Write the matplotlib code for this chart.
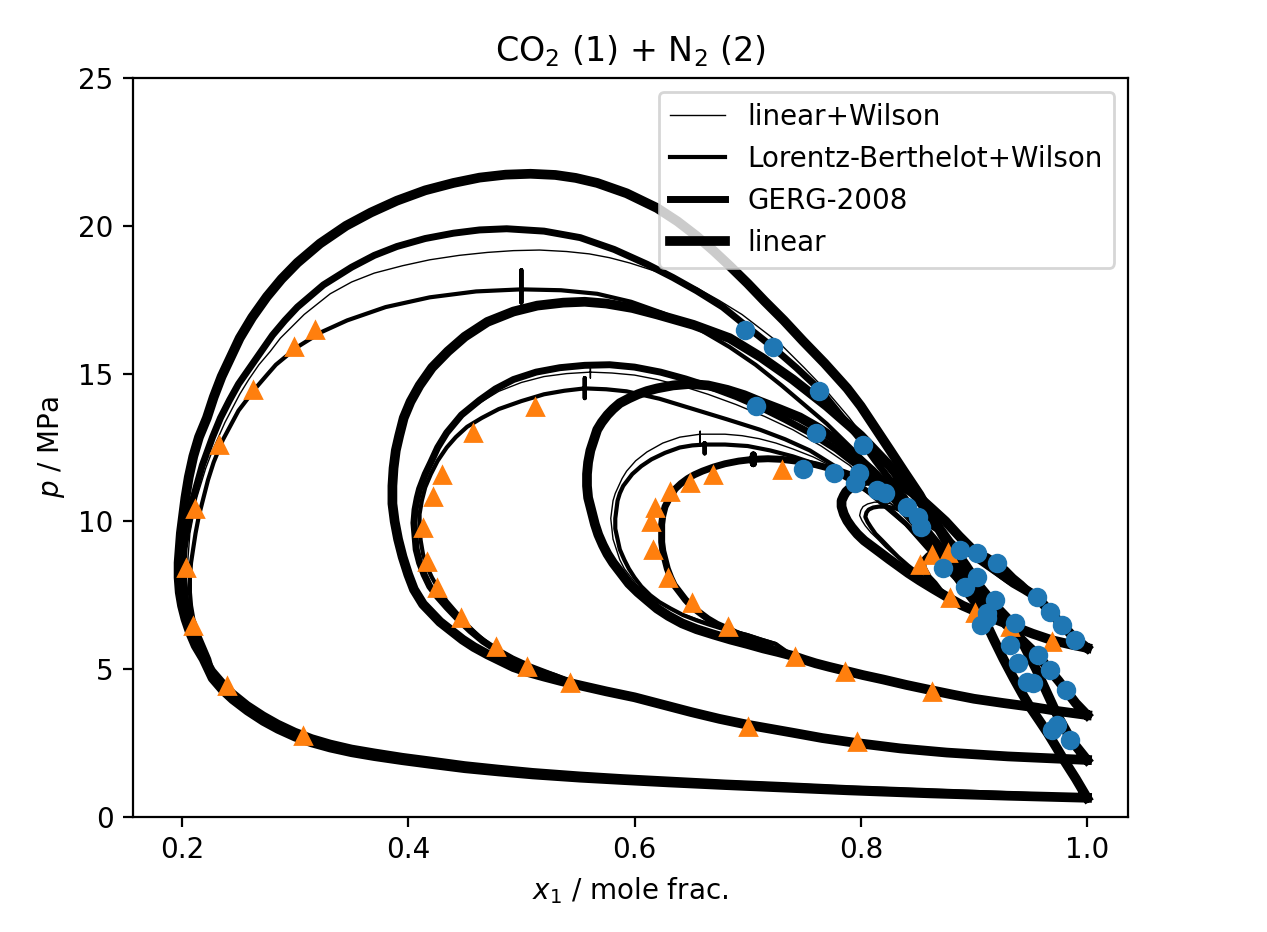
from matplotlib import pyplot as plt
import numpy as np

# phase envelopes CO2 (1) + N2 (2), four isotherms t1..t4 (lowest to highest)
# every envelope runs from pure CO2 (x1 = 1) along the dew branch, over the
# critical region and back along the bubble branch to x1 = 1

# low pressure tails shared by the models of one isotherm
dew_lo_t1 = [(1.0, 0.65), (0.93, 0.76), (0.861, 0.86), (0.79, 0.96), (0.729, 1.07), (0.68, 1.15),
             (0.63, 1.25), (0.59, 1.33), (0.552, 1.42), (0.51, 1.54), (0.48, 1.65), (0.45, 1.77),
             (0.419, 1.93), (0.395, 2.05), (0.37, 2.2), (0.35, 2.33), (0.331, 2.5), (0.315, 2.68),
             (0.3, 2.9), (0.285, 3.17), (0.272, 3.45), (0.258, 3.8), (0.245, 4.2), (0.236, 4.55),
             (0.227, 4.95)]
# the linear model runs a little below the others on the t1 dew branch
dew_lo_t1_lin = [(1.0, 0.65), (0.93, 0.72), (0.861, 0.8), (0.79, 0.9), (0.729, 1.0), (0.68, 1.08),
                 (0.63, 1.17), (0.59, 1.25), (0.552, 1.33), (0.51, 1.44), (0.48, 1.54), (0.45, 1.65),
                 (0.419, 1.8), (0.395, 1.92), (0.37, 2.06), (0.35, 2.19), (0.331, 2.35), (0.315, 2.52),
                 (0.3, 2.72), (0.285, 2.98), (0.272, 3.25), (0.258, 3.6), (0.245, 3.98), (0.236, 4.3),
                 (0.227, 4.7)]
bub_lo_t1 = [(0.906, 6.95), (0.917, 6.05), (0.926, 5.35), (0.935, 4.7), (0.943, 4.15), (0.95, 3.7),
             (0.958, 3.25), (0.965, 2.85), (0.973, 2.35), (0.98, 1.9), (0.99, 1.3), (1.0, 0.65)]

dew_lo_t2 = [(1.0, 1.93), (0.93, 2.05), (0.876, 2.18), (0.835, 2.32), (0.797, 2.5), (0.766, 2.67),
             (0.74, 2.85), (0.7, 3.12), (0.675, 3.32), (0.65, 3.55), (0.625, 3.8), (0.6, 4.05),
             (0.575, 4.25), (0.552, 4.45)]
bub_lo_t2 = [(0.935, 6.5), (0.945, 5.75), (0.955, 5.0), (0.964, 4.25), (0.973, 3.5), (0.986, 2.6),
             (1.0, 1.93)]

dew_lo_t3 = [(1.0, 3.45), (0.975, 3.58), (0.952, 3.72), (0.925, 3.86), (0.9, 4.0), (0.88, 4.15),
             (0.861, 4.3), (0.84, 4.47), (0.82, 4.65), (0.802, 4.8), (0.786, 4.95), (0.772, 5.08),
             (0.76, 5.2), (0.75, 5.32), (0.74, 5.45)]
bub_lo_t3 = [(0.946, 5.85), (0.957, 5.45), (0.967, 4.97), (0.975, 4.6), (0.981, 4.3), (0.99, 3.85),
             (1.0, 3.45)]

dew_lo_t4 = [(1.0, 5.72), (0.985, 5.84), (0.969, 5.98), (0.952, 6.2), (0.935, 6.45), (0.92, 6.67),
             (0.905, 6.9), (0.89, 7.15), (0.876, 7.45)]
bub_lo_t4 = [(0.956, 7.44), (0.967, 6.95), (0.978, 6.5), (0.989, 6.05), (1.0, 5.72)]

# linear+Wilson
linw_t1 = [(0.222, 5.35), (0.217, 5.8), (0.212, 6.25), (0.208, 6.7), (0.206, 7.15), (0.205, 7.6),
           (0.204, 8.1), (0.205, 8.6), (0.206, 9.1), (0.207, 9.6), (0.21, 10.2), (0.213, 10.8),
           (0.217, 11.3), (0.221, 11.8), (0.227, 12.4), (0.238, 13.35), (0.251, 14.3), (0.259, 14.8),
           (0.268, 15.3), (0.278, 15.75), (0.287, 16.2), (0.308, 17.0), (0.331, 17.7), (0.35, 18.1),
           (0.37, 18.4), (0.395, 18.65), (0.419, 18.85), (0.445, 19.0), (0.47, 19.1), (0.493, 19.16),
           (0.516, 19.18), (0.54, 19.13), (0.56, 19.05), (0.578, 18.92), (0.596, 18.74),
           (0.626, 18.37), (0.655, 17.9), (0.675, 17.47), (0.695, 17.0), (0.712, 16.5), (0.729, 16.0),
           (0.75, 15.2), (0.77, 14.4), (0.79, 13.5), (0.81, 12.5), (0.825, 11.7), (0.84, 10.9),
           (0.854, 10.1), (0.867, 9.3), (0.88, 8.5), (0.895, 7.6)]
linw_t2 = [(0.53, 4.8), (0.506, 5.1), (0.49, 5.4), (0.475, 5.7), (0.462, 6.1), (0.45, 6.5),
           (0.44, 6.9), (0.43, 7.3), (0.422, 7.75), (0.416, 8.2), (0.412, 8.65), (0.409, 9.1),
           (0.407, 9.55), (0.407, 10.0), (0.408, 10.4), (0.409, 10.8), (0.412, 11.25), (0.416, 11.7),
           (0.422, 12.2), (0.43, 12.7), (0.44, 13.2), (0.452, 13.7), (0.465, 14.05), (0.48, 14.4),
           (0.5, 14.7), (0.52, 14.9), (0.54, 15.0), (0.561, 15.05), (0.561, 15.25), (0.561, 14.85),
           (0.561, 15.05), (0.58, 15.02), (0.6, 14.95), (0.62, 14.8), (0.64, 14.6), (0.665, 14.3),
           (0.69, 13.95), (0.715, 13.55), (0.74, 13.1), (0.765, 12.55), (0.79, 11.9), (0.813, 11.1),
           (0.835, 10.3), (0.853, 9.55), (0.87, 8.8), (0.885, 8.1), (0.9, 7.5), (0.92, 7.0)]
linw_t3 = [(0.725, 5.9), (0.712, 6.05), (0.7, 6.2), (0.688, 6.32), (0.675, 6.45), (0.665, 6.57),
           (0.655, 6.7), (0.642, 6.88), (0.63, 7.1), (0.62, 7.3), (0.611, 7.5), (0.603, 7.8),
           (0.597, 8.1), (0.591, 8.4), (0.587, 8.7), (0.584, 9.05), (0.581, 9.4), (0.58, 9.75),
           (0.579, 10.1), (0.58, 10.4), (0.581, 10.7), (0.583, 10.95), (0.586, 11.2), (0.589, 11.45),
           (0.593, 11.7), (0.601, 12.05), (0.611, 12.35), (0.625, 12.65), (0.64, 12.85),
           (0.658, 12.95), (0.658, 13.05), (0.658, 12.55), (0.658, 12.95), (0.68, 12.95),
           (0.695, 12.9), (0.71, 12.8), (0.725, 12.65), (0.74, 12.45), (0.758, 12.18), (0.775, 11.85),
           (0.793, 11.45), (0.81, 11.0), (0.825, 10.52), (0.84, 10.0), (0.855, 9.4), (0.87, 8.8),
           (0.885, 8.15), (0.9, 7.5), (0.915, 6.95), (0.93, 6.4)]
linw_t4 = [(0.863, 7.8), (0.85, 8.2), (0.84, 8.52), (0.83, 8.85), (0.822, 9.12), (0.815, 9.4),
           (0.809, 9.62), (0.804, 9.85), (0.801, 10.03), (0.799, 10.2), (0.8, 10.37), (0.802, 10.5),
           (0.806, 10.59), (0.812, 10.65), (0.819, 10.65), (0.826, 10.6), (0.835, 10.46),
           (0.845, 10.25), (0.857, 9.95), (0.87, 9.6), (0.885, 9.2), (0.9, 8.8), (0.915, 8.4),
           (0.93, 8.0), (0.947, 7.65)]

# Lorentz-Berthelot+Wilson
lbw_t1 = [(0.224, 5.35), (0.219, 5.8), (0.214, 6.25), (0.21, 6.7), (0.208, 7.15), (0.207, 7.6),
          (0.207, 8.1), (0.208, 8.6), (0.21, 9.1), (0.212, 9.6), (0.215, 10.2), (0.219, 10.8),
          (0.223, 11.4), (0.228, 12.0), (0.236, 12.75), (0.25, 13.75), (0.258, 14.15), (0.266, 14.55),
          (0.275, 14.95), (0.283, 15.3), (0.302, 15.9), (0.323, 16.4), (0.346, 16.8), (0.38, 17.25),
          (0.419, 17.58), (0.46, 17.78), (0.5, 17.85), (0.5, 18.5), (0.5, 17.4), (0.5, 17.85),
          (0.535, 17.82), (0.567, 17.7), (0.597, 17.43), (0.625, 17.05), (0.655, 16.55),
          (0.684, 15.9), (0.707, 15.3), (0.73, 14.6), (0.75, 13.95), (0.77, 13.3), (0.79, 12.55),
          (0.81, 11.8), (0.825, 11.2), (0.84, 10.6), (0.854, 9.9), (0.867, 9.2), (0.88, 8.45),
          (0.895, 7.6)]
lbw_t2 = [(0.53, 4.8), (0.505, 5.1), (0.49, 5.42), (0.475, 5.75), (0.463, 6.1), (0.452, 6.5),
          (0.443, 6.9), (0.434, 7.3), (0.427, 7.7), (0.421, 8.1), (0.416, 8.5), (0.413, 8.9),
          (0.411, 9.35), (0.41, 9.8), (0.41, 10.25), (0.412, 10.7), (0.415, 11.15), (0.42, 11.6),
          (0.426, 12.05), (0.434, 12.5), (0.442, 12.85), (0.452, 13.2), (0.465, 13.5), (0.48, 13.8),
          (0.5, 14.07), (0.52, 14.3), (0.538, 14.42), (0.556, 14.5), (0.556, 14.85), (0.556, 14.17),
          (0.556, 14.5), (0.575, 14.47), (0.593, 14.4), (0.622, 14.15), (0.652, 13.8), (0.682, 13.45),
          (0.711, 13.1), (0.733, 12.78), (0.755, 12.4), (0.778, 11.85), (0.8, 11.2), (0.82, 10.55),
          (0.84, 9.9), (0.855, 9.25), (0.87, 8.6), (0.885, 8.0), (0.9, 7.4), (0.92, 7.0)]
lbw_t3 = [(0.725, 5.85), (0.712, 6.0), (0.7, 6.15), (0.688, 6.27), (0.675, 6.4), (0.665, 6.52),
          (0.655, 6.65), (0.643, 6.83), (0.632, 7.05), (0.622, 7.27), (0.614, 7.5), (0.606, 7.8),
          (0.6, 8.1), (0.595, 8.4), (0.591, 8.7), (0.587, 9.05), (0.585, 9.4), (0.583, 9.75),
          (0.583, 10.1), (0.584, 10.4), (0.585, 10.7), (0.587, 10.95), (0.59, 11.2), (0.594, 11.4),
          (0.598, 11.6), (0.606, 11.87), (0.615, 12.1), (0.627, 12.32), (0.64, 12.5), (0.651, 12.57),
          (0.662, 12.6), (0.662, 12.65), (0.662, 12.3), (0.662, 12.6), (0.68, 12.6), (0.7, 12.55),
          (0.72, 12.4), (0.74, 12.2), (0.758, 11.97), (0.775, 11.7), (0.793, 11.33), (0.81, 10.9),
          (0.825, 10.42), (0.84, 9.9), (0.855, 9.3), (0.87, 8.7), (0.885, 8.05), (0.9, 7.4),
          (0.915, 6.9), (0.93, 6.4)]
lbw_t4 = [(0.864, 7.82), (0.852, 8.2), (0.842, 8.5), (0.833, 8.8), (0.826, 9.07), (0.819, 9.35),
          (0.813, 9.58), (0.809, 9.8), (0.806, 9.98), (0.804, 10.15), (0.805, 10.3), (0.807, 10.4),
          (0.811, 10.47), (0.816, 10.5), (0.823, 10.5), (0.83, 10.45), (0.84, 10.3), (0.85, 10.1),
          (0.862, 9.82), (0.875, 9.5), (0.887, 9.12), (0.9, 8.75), (0.915, 8.35), (0.93, 7.95),
          (0.947, 7.6)]

# GERG-2008
gerg_t1 = [(0.221, 5.35), (0.215, 5.8), (0.21, 6.25), (0.206, 6.7), (0.204, 7.15), (0.202, 7.6),
           (0.201, 8.1), (0.201, 8.6), (0.202, 9.1), (0.204, 9.6), (0.207, 10.2), (0.21, 10.8),
           (0.214, 11.35), (0.218, 11.9), (0.227, 12.85), (0.234, 13.5), (0.242, 14.1), (0.25, 14.65),
           (0.26, 15.2), (0.27, 15.75), (0.28, 16.3), (0.291, 16.8), (0.302, 17.25), (0.325, 18.0),
           (0.35, 18.6), (0.37, 19.0), (0.39, 19.3), (0.415, 19.57), (0.44, 19.75), (0.463, 19.86),
           (0.487, 19.9), (0.52, 19.82), (0.552, 19.6), (0.582, 19.2), (0.611, 18.7), (0.634, 18.25),
           (0.655, 17.8), (0.678, 17.25), (0.699, 16.6), (0.722, 15.9), (0.743, 15.2), (0.764, 14.45),
           (0.782, 13.6), (0.8, 12.75), (0.813, 12.05), (0.826, 11.4), (0.84, 10.7), (0.852, 10.05),
           (0.867, 9.1), (0.88, 8.35), (0.895, 7.5)]
gerg_t2 = [(0.53, 4.75), (0.508, 5.07), (0.492, 5.35), (0.478, 5.65), (0.466, 5.95), (0.455, 6.3),
           (0.444, 6.7), (0.434, 7.1), (0.426, 7.45), (0.419, 7.8), (0.414, 8.2), (0.41, 8.6),
           (0.407, 9.05), (0.406, 9.5), (0.405, 9.95), (0.406, 10.4), (0.408, 10.8), (0.41, 11.1),
           (0.415, 11.6), (0.42, 12.0), (0.426, 12.5), (0.434, 13.0), (0.447, 13.6), (0.463, 14.1),
           (0.477, 14.48), (0.493, 14.8), (0.513, 15.05), (0.534, 15.2), (0.556, 15.28), (0.578, 15.3),
           (0.6, 15.22), (0.623, 15.05), (0.645, 14.82), (0.667, 14.55), (0.69, 14.22), (0.711, 13.87),
           (0.733, 13.45), (0.755, 13.0), (0.778, 12.45), (0.8, 11.8), (0.82, 11.1), (0.84, 10.3),
           (0.855, 9.6), (0.87, 8.9), (0.885, 8.2), (0.9, 7.6), (0.92, 7.0)]
gerg_t3 = [(0.728, 5.6), (0.716, 5.8), (0.703, 6.0), (0.69, 6.22), (0.683, 6.35), (0.673, 6.52),
           (0.665, 6.7), (0.658, 6.9), (0.651, 7.1), (0.645, 7.35), (0.64, 7.6), (0.635, 7.85),
           (0.632, 8.1), (0.629, 8.4), (0.627, 8.7), (0.625, 9.0), (0.624, 9.3), (0.624, 9.6),
           (0.624, 9.9), (0.625, 10.2), (0.627, 10.5), (0.631, 10.8), (0.636, 11.1), (0.641, 11.28),
           (0.647, 11.45), (0.653, 11.58), (0.66, 11.7), (0.67, 11.84), (0.68, 11.95), (0.692, 12.04),
           (0.705, 12.1), (0.705, 12.25), (0.705, 11.95), (0.705, 12.1), (0.718, 12.12), (0.73, 12.1),
           (0.745, 12.03), (0.76, 11.92), (0.78, 11.72), (0.8, 11.45), (0.815, 11.2), (0.83, 10.85),
           (0.84, 10.5), (0.85, 10.1), (0.86, 9.55), (0.87, 9.0), (0.88, 8.5), (0.89, 8.0),
           (0.9, 7.55), (0.91, 7.1), (0.92, 6.75), (0.935, 6.3)]
gerg_t4 = [(0.87, 7.65), (0.865, 7.9), (0.86, 8.1), (0.857, 8.3), (0.855, 8.45), (0.855, 8.6),
           (0.857, 8.73), (0.86, 8.85), (0.866, 8.94), (0.872, 9.0), (0.88, 9.04), (0.888, 9.05),
           (0.896, 9.02), (0.903, 8.95), (0.912, 8.8), (0.92, 8.6), (0.928, 8.37), (0.935, 8.1),
           (0.942, 7.88), (0.947, 7.7)]

# linear
lin_t1 = [(0.219, 5.35), (0.212, 5.8), (0.207, 6.25), (0.203, 6.7), (0.2, 7.15), (0.198, 7.6),
          (0.197, 8.1), (0.197, 8.6), (0.198, 9.1), (0.199, 9.6), (0.201, 10.2), (0.203, 10.8),
          (0.206, 11.5), (0.21, 12.2), (0.215, 12.85), (0.222, 13.5), (0.228, 14.2), (0.235, 14.9),
          (0.243, 15.55), (0.251, 16.2), (0.262, 16.9), (0.275, 17.6), (0.288, 18.2), (0.302, 18.75),
          (0.322, 19.4), (0.345, 20.0), (0.367, 20.45), (0.39, 20.85), (0.415, 21.2), (0.44, 21.45),
          (0.463, 21.63), (0.486, 21.73), (0.508, 21.76), (0.53, 21.72), (0.548, 21.62),
          (0.567, 21.45), (0.593, 21.1), (0.62, 20.6), (0.638, 20.15), (0.655, 19.65), (0.67, 19.15),
          (0.684, 18.65), (0.7, 18.05), (0.715, 17.45), (0.732, 16.8), (0.749, 16.1), (0.768, 15.35),
          (0.788, 14.5), (0.8, 13.9), (0.813, 13.15), (0.826, 12.4), (0.838, 11.7), (0.852, 10.9),
          (0.863, 10.15), (0.875, 9.35), (0.885, 8.6), (0.895, 7.85)]
lin_t2 = [(0.535, 4.6), (0.52, 4.75), (0.506, 4.9), (0.493, 5.07), (0.47, 5.5), (0.458, 5.75),
          (0.448, 6.0), (0.438, 6.3), (0.428, 6.6), (0.413, 7.2), (0.405, 7.7), (0.4, 8.2),
          (0.395, 8.8), (0.391, 9.4), (0.388, 10.0), (0.386, 10.6), (0.386, 11.2), (0.387, 11.8),
          (0.389, 12.4), (0.392, 12.9), (0.396, 13.5), (0.402, 14.05), (0.41, 14.6), (0.421, 15.2),
          (0.435, 15.75), (0.45, 16.25), (0.47, 16.75), (0.493, 17.1), (0.514, 17.3), (0.537, 17.4),
          (0.556, 17.43), (0.575, 17.37), (0.598, 17.22), (0.62, 17.0), (0.652, 16.65),
          (0.684, 16.2), (0.712, 15.55), (0.74, 14.8), (0.77, 13.9), (0.8, 12.9), (0.825, 11.9),
          (0.85, 10.8), (0.865, 10.0), (0.88, 9.2), (0.893, 8.5), (0.905, 7.8), (0.92, 7.1)]
lin_t3 = [(0.727, 5.58), (0.714, 5.7), (0.7, 5.85), (0.685, 6.0), (0.67, 6.17), (0.655, 6.35),
          (0.642, 6.55), (0.63, 6.8), (0.62, 7.05), (0.611, 7.34), (0.603, 7.6), (0.595, 7.9),
          (0.588, 8.25), (0.581, 8.6), (0.576, 8.9), (0.572, 9.2), (0.568, 9.55), (0.565, 9.9),
          (0.562, 10.35), (0.559, 10.8), (0.558, 11.2), (0.558, 11.6), (0.559, 12.0), (0.561, 12.4),
          (0.564, 12.75), (0.567, 13.1), (0.571, 13.35), (0.576, 13.6), (0.581, 13.8), (0.587, 14.0),
          (0.595, 14.16), (0.603, 14.3), (0.611, 14.41), (0.62, 14.5), (0.634, 14.6), (0.649, 14.65),
          (0.665, 14.6), (0.682, 14.45), (0.697, 14.27), (0.711, 14.05), (0.728, 13.8),
          (0.746, 13.52), (0.763, 13.15), (0.78, 12.7), (0.795, 12.2), (0.81, 11.7), (0.825, 11.1),
          (0.84, 10.5), (0.855, 9.8), (0.87, 9.1), (0.885, 8.4), (0.9, 7.7), (0.915, 7.05),
          (0.93, 6.45)]
lin_t4 = [(0.864, 7.72), (0.852, 8.0), (0.842, 8.25), (0.833, 8.5), (0.825, 8.72), (0.817, 8.95),
          (0.81, 9.15), (0.803, 9.35), (0.797, 9.57), (0.792, 9.8), (0.788, 10.02), (0.785, 10.25),
          (0.783, 10.5), (0.783, 10.7), (0.785, 10.87), (0.787, 11.0), (0.791, 11.14), (0.795, 11.25),
          (0.802, 11.35), (0.81, 11.4), (0.82, 11.39), (0.83, 11.3), (0.841, 11.1), (0.852, 10.8),
          (0.863, 10.42), (0.875, 10.0), (0.887, 9.5), (0.9, 9.0), (0.912, 8.58), (0.925, 8.2),
          (0.935, 7.92), (0.945, 7.7)]

# measured dew points (vapour) and bubble points (liquid)
dew_x = [0.318, 0.299, 0.263, 0.233, 0.2115, 0.2035, 0.2097, 0.24, 0.307,
         0.512, 0.457, 0.43, 0.422, 0.413, 0.417, 0.425, 0.447, 0.478, 0.505, 0.543, 0.70, 0.797,
         0.73, 0.669, 0.649, 0.631, 0.618, 0.615, 0.616, 0.63, 0.651, 0.683, 0.742, 0.786, 0.863,
         0.852, 0.863, 0.877, 0.879, 0.901, 0.932, 0.969]
dew_p = [16.47, 15.9, 14.45, 12.58, 10.42, 8.42, 6.46, 4.43, 2.74,
         13.87, 13.0, 11.57, 10.83, 9.78, 8.63, 7.75, 6.73, 5.75, 5.07, 4.53, 3.04, 2.54,
         11.74, 11.57, 11.3, 11.0, 10.45, 9.98, 9.03, 8.09, 7.24, 6.43, 5.41, 4.9, 4.23,
         8.53, 8.86, 8.93, 7.41, 6.9, 6.43, 5.92]

bub_x = [0.698, 0.722, 0.763, 0.707, 0.76, 0.802, 0.749, 0.776, 0.798, 0.795, 0.814, 0.821,
         0.841, 0.851, 0.853, 0.888, 0.903, 0.92, 0.873, 0.903, 0.892, 0.919, 0.912, 0.912,
         0.906, 0.936, 0.932, 0.939, 0.947, 0.952, 0.957, 0.967, 0.981, 0.969, 0.973, 0.985,
         0.956, 0.967, 0.978, 0.989]
bub_p = [16.47, 15.9, 14.41, 13.9, 12.99, 12.58, 11.77, 11.64, 11.64, 11.3, 11.06, 10.96,
         10.5, 10.15, 9.8, 9.03, 8.93, 8.59, 8.42, 8.12, 7.78, 7.34, 6.9, 6.73,
         6.5, 6.56, 5.82, 5.2, 4.57, 4.53, 5.48, 4.97, 4.3, 2.94, 3.11, 2.6,
         7.44, 6.93, 6.5, 5.99]

# (dew tail, upper part, bubble tail) for t1..t4
models = [
    ('linear+Wilson', 0.5, [(dew_lo_t1, linw_t1, bub_lo_t1), (dew_lo_t2, linw_t2, bub_lo_t2),
                            (dew_lo_t3, linw_t3, bub_lo_t3), (dew_lo_t4, linw_t4, bub_lo_t4)]),
    ('Lorentz-Berthelot+Wilson', 1.5, [(dew_lo_t1, lbw_t1, bub_lo_t1), (dew_lo_t2, lbw_t2, bub_lo_t2),
                                       (dew_lo_t3, lbw_t3, bub_lo_t3), (dew_lo_t4, lbw_t4, bub_lo_t4)]),
    ('GERG-2008', 2.5, [(dew_lo_t1, gerg_t1, bub_lo_t1), (dew_lo_t2, gerg_t2, bub_lo_t2),
                        (dew_lo_t3, gerg_t3, bub_lo_t3), (dew_lo_t4, gerg_t4, bub_lo_t4)]),
    ('linear', 3.5, [(dew_lo_t1_lin, lin_t1, bub_lo_t1), (dew_lo_t2, lin_t2, bub_lo_t2),
                     (dew_lo_t3, lin_t3, bub_lo_t3), (dew_lo_t4, lin_t4, bub_lo_t4)]),
]


def envelope(dew_lo, upper, bub_lo):
    pts = np.array(dew_lo + upper + bub_lo)
    return pts[:, 0], pts[:, 1]


fig = plt.figure(figsize=(1267 / 200, 932 / 200), dpi=200)
ax = fig.add_axes([133 / 1267, 115 / 932, 995 / 1267, 739 / 932])

for name, lw, curves in models:
    for i, parts in enumerate(curves):
        x, p = envelope(*parts)
        ax.plot(x, p, color='k', lw=lw, label=name if i == 0 else None)

ax.plot(dew_x, dew_p, '^', color='C1')
ax.plot(bub_x, bub_p, 'o', color='C0')

ax.set_xlim(0.1567, 1.0362)
ax.set_ylim(0, 25)
ax.set_xticks([0.2, 0.4, 0.6, 0.8, 1.0])
ax.set_xlabel('$x_1$ / mole frac.')
ax.set_ylabel('$p$ / MPa')
ax.set_title('CO$_2$ (1) + N$_2$ (2)')
ax.legend(loc='upper right')

fig.savefig('out.png', dpi=200)
